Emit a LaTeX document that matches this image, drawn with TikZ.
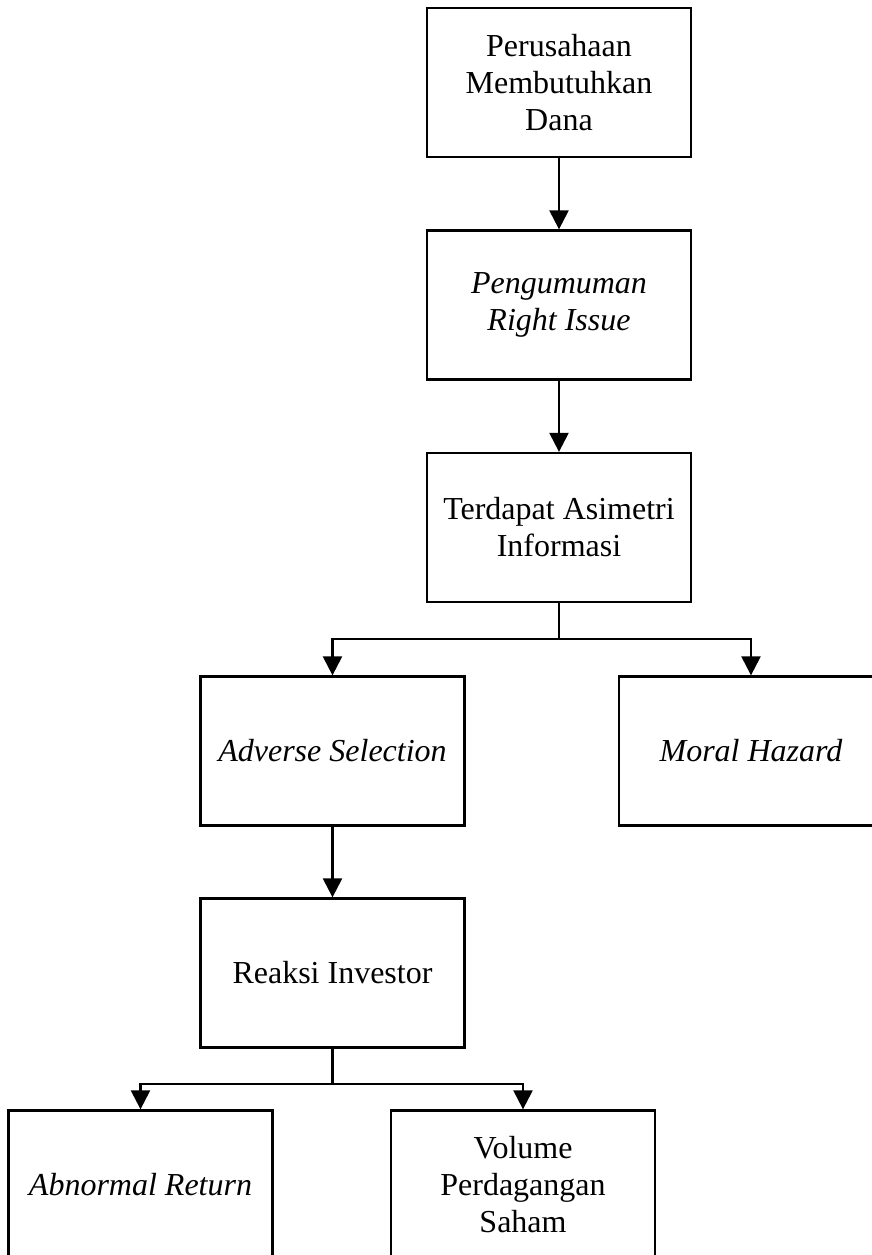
\documentclass[tikz,border=0pt]{standalone}
\usepackage{fontspec}
\setmainfont{Liberation Serif}
\usetikzlibrary{arrows.meta}
\begin{document}
\begin{tikzpicture}[x=1pt,y=-1pt,
  box/.style={draw=black,line width=2.3pt,minimum width=264pt,minimum height=149pt,
    align=center,inner sep=0pt,font=\fontsize{32}{37}\selectfont},
  arr/.style={line width=2.3pt,-{Triangle[width=19pt,length=19pt]}},
  ln/.style={line width=2.3pt}]
\useasboundingbox (0,0) rectangle (872,1255);
\clip (0,0) rectangle (872,1255);
\fill[white] (0,0) rectangle (872,1255);
\node[box] (b1) at (559,82.5) {Perusahaan\\Membutuhkan\\Dana};
\node[box] (b2) at (559,305) {\itshape Pengumuman\\\itshape Right Issue};
\node[box] (b3) at (559,527.5) {Terdapat Asimetri\\Informasi};
\node[box] (b4) at (332.5,751) {\itshape Adverse Selection};
\node[box] (b5) at (751,751) {\itshape Moral Hazard};
\node[box] (b6) at (332.5,973) {Reaksi Investor};
\node[box] (b7) at (140.5,1185) {\itshape Abnormal Return};
\node[box] (b8) at (523,1185) {Volume\\Perdagangan\\Saham};
\coordinate (j1) at (559,639);
\coordinate (j2) at (332.5,1084);
\draw[arr] (b1.south) -- (b2.north);
\draw[arr] (b2.south) -- (b3.north);
\draw[ln] (b3.south) -- (j1);
\draw[arr] (j1) -| (b4.north);
\draw[arr] (j1) -| (b5.north);
\draw[arr] (b4.south) -- (b6.north);
\draw[ln] (b6.south) -- (j2);
\draw[arr] (j2) -| (b7.north);
\draw[arr] (j2) -| (b8.north);
\end{tikzpicture}
\end{document}
